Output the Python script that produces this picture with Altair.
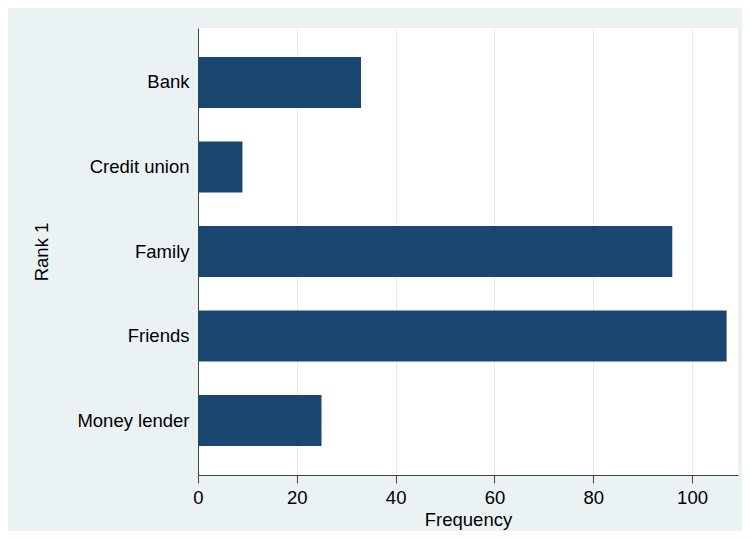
import altair as alt
import pandas as pd

categories = ["Bank", "Credit union", "Family", "Friends", "Money lender"]
frequency = [33, 9, 96, 107, 25]

df = pd.DataFrame({"cat": categories, "freq": frequency})

FONT = "Liberation Sans"
FS = 18.5

chart = alt.Chart(df).mark_bar(color="#1a476f").encode(
    x=alt.X(
        "freq:Q",
        scale=alt.Scale(domain=[0, 109.3], nice=False, zero=True),
        axis=alt.Axis(
            title="Frequency",
            values=[0, 20, 40, 60, 80, 100],
            labelFontSize=FS,
            labelFont=FONT,
            labelColor="#000000",
            labelBaseline="middle",
            labelPadding=14,
            tickSize=8,
            tickColor="#444444",
            domainColor="#444444",
            grid=True,
            gridColor="#E4ECEF",
            gridWidth=1,
            titleFont=FONT,
            titleFontSize=FS,
            titleFontWeight="normal",
            titleColor="#000000",
            titleX=270,
            titleY=44,
            titleBaseline="middle",
            titleAlign="center",
            labelFlush=False,
        ),
    ),
    y=alt.Y(
        "cat:N",
        sort=categories,
        scale=alt.Scale(paddingInner=0.397, paddingOuter=0.342),
        axis=alt.Axis(
            title="Rank 1",
            ticks=False,
            labelFontSize=FS,
            labelFont=FONT,
            labelColor="#000000",
            labelPadding=9,
            domainColor="#444444",
            grid=False,
            titleFont=FONT,
            titleFontSize=FS,
            titleFontWeight="normal",
            titleColor="#000000",
            titleAngle=270,
            titleX=-157,
            titleY=223.5,
            titleAlign="center",
            titleBaseline="middle",
        ),
    ),
).properties(
    width=540,
    height=447,
    background="#EAF2F3",
    padding={"left": 190, "top": 20, "right": 4, "bottom": 56},
    autosize=alt.AutoSizeParams(type="none"),
).configure_view(
    fill="#FFFFFF",
    stroke=None,
)

chart.save("out.html", embed_options={"renderer": "svg", "actions": False})
